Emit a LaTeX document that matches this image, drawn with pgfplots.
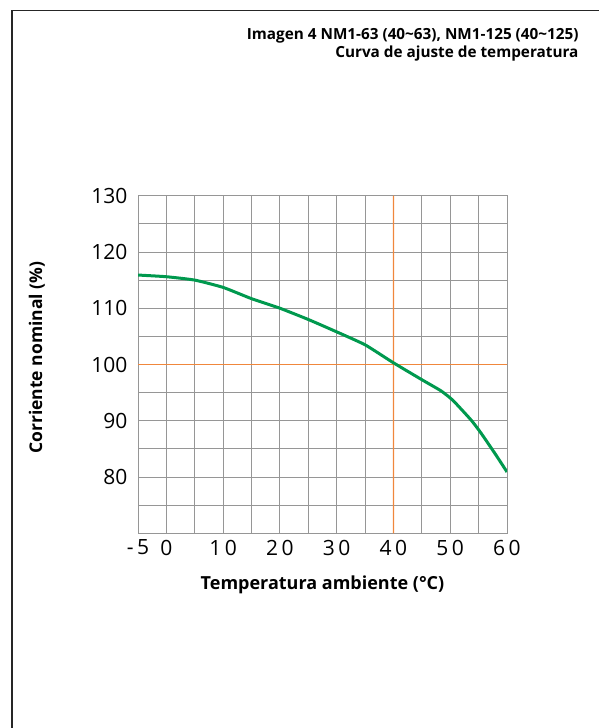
\documentclass[border=0pt]{standalone}
\usepackage{fontspec}
\setmainfont{Open Sans}
\usepackage{pgfplots}
\pgfplotsset{compat=1.18}

\definecolor{curvegreen}{RGB}{0,153,78}
\definecolor{refline}{RGB}{240,135,60}
\definecolor{gridgray}{RGB}{150,150,150}

\begin{document}
\begin{tikzpicture}[x=1pt,y=1pt]
  % page size = 599 x 728 px
  \path[use as bounding box] (0,0) rectangle (599,728);
  % frame (only left and top are visible)
  \draw[line width=1.6pt, black!85] (11.8,0) -- (11.8,717.5) -- (599,717.5);

  \node[anchor=base east, font=\fontsize{15.3}{18}\selectfont\bfseries]
    at (582,688) {Imagen 4 NM1-63 (40\textasciitilde 63), NM1-125 (40\textasciitilde 125)};
  \node[anchor=base east, font=\fontsize{15.3}{18}\selectfont\bfseries]
    at (582,670.5) {Curva de ajuste de temperatura};

  \begin{axis}[
      at={(138pt,194.7pt)}, anchor=south west,
      scale only axis,
      width=369pt, height=337.6pt,
      xmin=-5, xmax=60,
      ymin=70, ymax=130,
      xtick={-5,0,10,20,30,40,50,60},
      xticklabels={-\,5,0,1\,0,2\,0,3\,0,4\,0,5\,0,6\,0},
      minor xtick={5,15,25,35,45,55},
      ytick={80,90,100,110,120,130},
      yticklabels={80,90,100,110,120,130},
      minor ytick={70,75,85,95,105,115,125},
      grid=both,
      major grid style={gridgray, line width=0.9pt},
      minor grid style={gridgray, line width=0.9pt},
      axis line style={gridgray, line width=0.9pt},
      major tick length=0pt, minor tick length=0pt,
      tick label style={font=\fontsize{21}{25}\selectfont, black},
      xticklabel style={yshift=-3pt},
      yticklabel style={xshift=-7pt},
      xlabel={Temperatura ambiente (\textdegree C)},
      ylabel={Corriente nominal (\%)},
      xlabel style={font=\fontsize{18}{21}\selectfont\bfseries, at={(rel axis cs:0.5,-0.153)}, anchor=center},
      ylabel style={font=\fontsize{17.5}{21}\selectfont\bfseries, at={(rel axis cs:-0.274,0.52)}, anchor=center},
      clip=true,
    ]
    % reference lines
    \addplot[draw=refline, line width=1.1pt] coordinates {(-5,100) (60,100)};
    \addplot[draw=refline, line width=1.1pt] coordinates {(39.999,70) (40.001,130)};
    % derating curve
    \addplot[curvegreen, line width=3pt, smooth, tension=0.3] coordinates {
      (-5,115.9) (0,115.6) (5,115.0) (10,113.7) (15,111.7) (20,110.0)
      (25,108.0) (30,105.8) (35,103.5) (40,100.3) (45,97.3) (48.4,95.3)
      (50.5,93.6) (53.7,90.1) (55.5,87.7) (58,84.0) (60,80.9)
    };
  \end{axis}
\end{tikzpicture}
\end{document}
